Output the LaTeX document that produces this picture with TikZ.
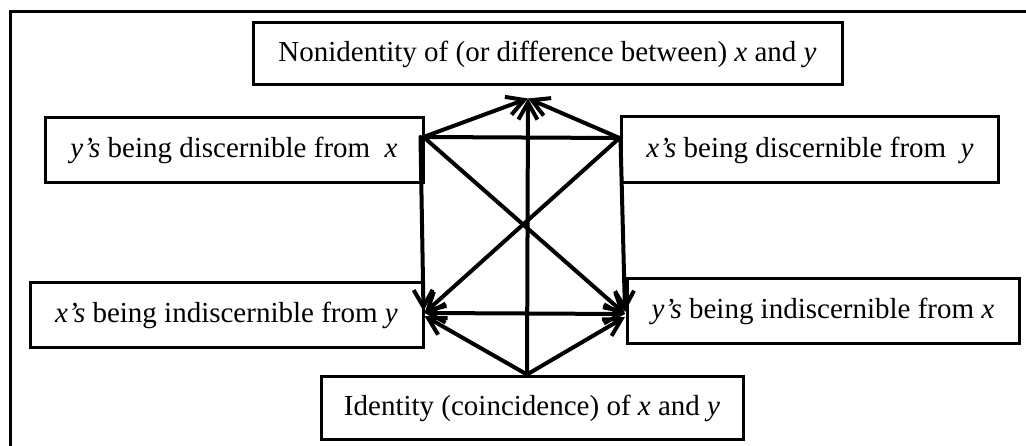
\documentclass[tikz,border=0pt]{standalone}
\usepackage{fontspec}
\setmainfont{Liberation Serif}
\usetikzlibrary{arrows.meta,calc}
\begin{document}
\begin{tikzpicture}[x=1pt,y=-1pt,
  box/.style={draw, line width=3pt, inner sep=0pt, rectangle, font=\fontsize{29}{34}\selectfont},
  conn/.style={line width=4pt, line cap=round},
  tipa/.tip={Straight Barb[length=17pt,width=19pt]},
  arr/.style={conn, -{tipa}},
  darr/.style={conn, {tipa}-{tipa}}]
\useasboundingbox (0,0) rectangle (1026,446);
\clip (0,0) rectangle (1026,446);
\fill[white] (0,0) rectangle (1026,446);
% frame (cut at right and bottom)
\draw[line width=3pt] (10,470) -- (10,12) -- (1050,12);
% boxes
\node[box, minimum width=589pt, minimum height=62pt] (top) at (547.5,54) {Nonidentity of (or difference between) \textit{x} and \textit{y}};
\node[box, minimum width=378pt, minimum height=65pt] (ul) at (234,150.5) {\textit{y’s} being discernible from\ \ \textit{x}};
\node[box, minimum width=377pt, minimum height=66pt] (ur) at (810,150) {\textit{x’s} being discernible from\ \ \textit{y}};
\node[box, minimum width=393pt, minimum height=65pt] (ll) at (226.5,315.5) {\textit{x’s} being indiscernible from \textit{y}};
\node[box, minimum width=392pt, minimum height=65pt] (lr) at (823,311.5) {\textit{y’s} being indiscernible from \textit{x}};
\node[box, minimum width=422pt, minimum height=62pt] (bot) at (532,408) {Identity (coincidence) of \textit{x} and \textit{y}};
% connection points
\coordinate (A) at ($(top.south)+(-19.5,12)$);
\coordinate (UL) at ($(ul.east)+(-1,-13.5)$);
\coordinate (UR) at ($(ur.west)+(-0.5,-12)$);
\coordinate (LL) at ($(ll.east)+(0,-2.5)$);
\coordinate (LR) at ($(lr.west)+(-0.5,2.5)$);
\coordinate (B) at ($(bot.north)+(-5,-1)$);
% connectors
\draw[conn] (UL) -- (UR);
\draw[arr] (UL) -- (A);
\draw[arr] (UR) -- (A);
\draw[arr] (B) -- (A);
\draw[arr] (UL) -- (LR);
\draw[arr] (UR) -- (LL);
\draw[arr] ($(UL)+(-3,0)$) -- ($(LL)+(-1,-2)$);
\draw[arr] ($(UR)+(1,0)$) -- ($(LR)+(0,-2)$);
\draw[darr] (LL) -- (LR);
\draw[arr] (B) -- ($(LL)+(0,3)$);
\draw[arr] (B) -- ($(LR)+(0,3)$);
\end{tikzpicture}
\end{document}
